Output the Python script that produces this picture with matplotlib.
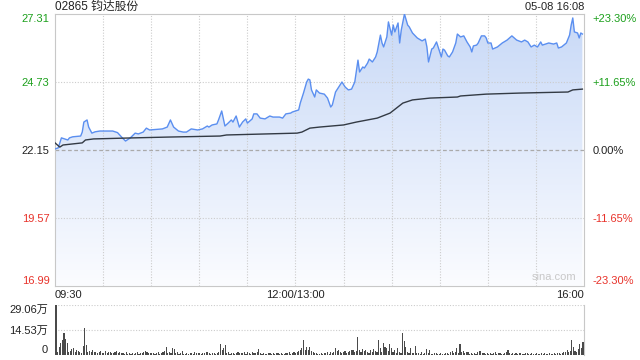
import numpy as np
import matplotlib.pyplot as plt
from matplotlib.colors import LinearSegmentedColormap

plt.rcParams['font.family'] = ['Liberation Sans', 'Noto Sans CJK SC']
plt.rcParams['font.size'] = 8

# dados (minutos de pregao desde 09:30, sem almoco)
minutos = [0, 2, 4, 6, 8, 9, 11, 16, 17, 18,
           20, 21, 23, 25, 28, 36, 39, 42, 44, 47,
           50, 52, 55, 57, 59, 67, 70, 72, 74, 77,
           80, 82, 85, 89, 92, 95, 96, 98, 101, 102,
           104, 106, 108, 110, 111, 113, 115, 117, 119, 120,
           123, 124, 126, 128, 131, 134, 136, 140, 142, 144,
           147, 148, 152, 153, 155, 157, 158, 159, 160, 162,
           163, 165, 168, 170, 172, 173, 175, 177, 179, 181,
           183, 185, 187, 189, 190, 192, 193, 195, 196, 198,
           200, 201, 203, 204, 205, 207, 208, 210, 211, 212,
           214, 215, 216, 218, 220, 221, 223, 226, 229, 231,
           232, 233, 235, 236, 238, 239, 241, 242, 243, 245,
           246, 248, 250, 251, 253, 255, 257, 259, 260, 261,
           263, 264, 266, 268, 269, 270, 272, 273, 276, 279,
           282, 285, 288, 291, 293, 295, 297, 299, 301, 303,
           304, 308, 311, 313, 314, 316, 319, 321, 322, 323,
           324, 326, 327, 328, 329]
precos = [22.19, 22.23, 22.61, 22.57, 22.53, 22.61, 22.65, 22.68, 22.83, 23.21,
          23.29, 23.02, 22.79, 22.84, 22.87, 22.87, 22.81, 22.61, 22.49, 22.61,
          22.79, 22.76, 22.83, 22.98, 22.91, 22.95, 23.02, 23.29, 23.02, 22.87,
          22.83, 22.83, 22.95, 22.91, 22.95, 23.06, 23.02, 23.10, 23.14, 23.29,
          23.63, 23.06, 23.17, 23.29, 23.21, 23.44, 23.02, 23.21, 23.33, 23.17,
          23.33, 23.52, 23.52, 23.36, 23.33, 23.44, 23.40, 23.40, 23.36, 23.52,
          23.55, 23.59, 23.67, 23.93, 24.31, 24.73, 24.84, 24.81, 24.43, 24.16,
          24.43, 24.31, 24.27, 24.12, 23.78, 23.86, 24.35, 24.54, 24.73, 24.54,
          24.43, 24.46, 24.73, 25.56, 25.11, 25.30, 25.26, 25.45, 25.60, 25.49,
          25.68, 25.87, 26.51, 26.21, 26.06, 26.44, 27.01, 26.51, 26.89, 26.63,
          26.97, 26.21, 26.70, 27.31, 26.89, 26.82, 26.59, 26.40, 26.29, 26.36,
          26.06, 25.49, 25.98, 26.02, 26.25, 26.06, 25.68, 25.98, 25.94, 25.72,
          25.68, 25.87, 26.21, 26.55, 26.44, 26.48, 26.25, 26.06, 25.87, 26.10,
          26.13, 26.21, 26.48, 26.48, 26.40, 26.21, 26.21, 25.98, 26.06, 26.21,
          26.32, 26.48, 26.32, 26.25, 26.32, 26.25, 26.06, 26.13, 26.06, 26.25,
          26.13, 26.21, 26.17, 26.21, 26.02, 26.06, 26.21, 26.51, 26.89, 27.16,
          26.63, 26.59, 26.40, 26.59, 26.55]

media_min = [0, 3, 5, 17, 19, 24, 49, 70, 103, 107,
             132, 151, 154, 159, 165, 180, 188, 201, 209, 217,
             223, 234, 251, 253, 269, 290, 320, 323, 329]
media = [22.42, 22.26, 22.34, 22.42, 22.53, 22.57, 22.61, 22.64, 22.68, 22.72,
         22.76, 22.79, 22.83, 22.98, 23.02, 23.10, 23.21, 23.36, 23.55, 23.93,
         24.05, 24.12, 24.16, 24.20, 24.27, 24.31, 24.35, 24.43, 24.46]

# volume por minuto, em 万
volume = [29.06, 1.5, 4.4, 6.7, 8.7, 12.8, 9.5, 7.0, 2.0, 2.5, 3.3, 4.0, 2.0, 3.0, 2.5, 1.8, 1.0, 5.4, 15.9, 6.0, 1.5, 2.5, 2.0, 3.0, 1.5, 2.0, 1.0, 1.5, 2.3, 1.0,
          1.2, 2.3, 1.0, 1.5, 2.0, 1.2, 1.0, 1.5, 2.3, 1.0, 1.8, 1.2, 1.0, 0.8, 1.5, 0.6, 1.0, 0.8, 1.2, 0.6, 1.0, 1.5, 0.8, 1.2, 1.0, 1.8, 2.3, 1.5, 1.0, 1.2,
          1.0, 1.2, 0.8, 1.0, 1.5, 0.6, 1.0, 1.9, 2.5, 4.8, 1.2, 2.0, 1.0, 4.2, 3.3, 1.0, 1.5, 0.8, 1.0, 2.3, 0.8, 0.6, 1.0, 0.8, 1.2, 1.0, 0.8, 1.5, 1.0, 1.2,
          1.0, 0.8, 1.2, 1.0, 1.5, 1.7, 1.0, 0.8, 1.2, 1.0, 0.8, 1.2, 1.5, 6.4, 2.9, 3.8, 5.8, 1.0, 1.5, 0.8, 1.0, 1.2, 0.8, 1.0, 1.5, 1.0, 1.2, 1.0, 1.7, 0.8,
          1.5, 1.0, 0.8, 1.9, 1.2, 1.0, 1.5, 3.3, 1.2, 0.8, 1.0, 0.6, 0.8, 1.0, 1.2, 0.8, 1.0, 0.6, 1.0, 1.2, 0.8, 1.0, 0.6, 0.8, 1.2, 1.0, 1.9, 0.8, 1.2, 1.5,
          1.2, 1.9, 2.3, 2.9, 3.9, 8.7, 2.9, 4.8, 3.0, 4.8, 2.3, 1.9, 1.2, 1.0, 0.8, 0.6, 1.0, 0.8, 1.2, 1.0, 1.5, 0.8, 1.9, 1.2, 1.5, 3.9, 2.3, 2.9, 1.5, 1.2,
          1.5, 2.3, 1.2, 1.9, 2.3, 2.9, 2.9, 1.9, 2.5, 10.7, 2.9, 1.5, 3.5, 2.3, 2.9, 1.5, 1.2, 2.9, 1.9, 3.5, 2.3, 1.9, 8.7, 3.9, 1.5, 6.8, 4.8, 4.3, 2.3, 6.2,
          3.9, 1.5, 2.9, 1.2, 3.9, 1.5, 1.2, 13.0, 8.1, 4.8, 1.5, 1.0, 3.9, 1.2, 1.0, 5.4, 1.2, 1.0, 0.8, 1.5, 0.8, 1.0, 3.5, 1.2, 2.9, 0.8, 0.6, 1.0, 1.2, 0.8,
          0.8, 1.0, 0.6, 0.8, 1.2, 1.0, 0.8, 1.5, 2.3, 1.2, 1.9, 3.9, 1.2, 6.4, 1.5, 2.3, 1.0, 1.5, 1.9, 0.8, 1.2, 0.6, 1.0, 0.8, 1.5, 2.3, 2.5, 1.0, 1.2, 0.8,
          1.0, 0.8, 1.2, 0.6, 1.0, 1.5, 0.8, 1.0, 1.2, 0.6, 0.8, 1.0, 1.5, 2.9, 1.0, 0.8, 1.2, 0.6, 1.0, 0.8, 1.2, 1.0, 0.6, 0.8, 1.0, 1.2, 0.8, 0.6, 1.0, 0.8,
          0.8, 1.0, 0.6, 0.8, 1.0, 0.8, 1.2, 0.6, 0.8, 1.0, 0.8, 0.6, 1.0, 0.8, 1.2, 1.0, 0.8, 1.2, 1.5, 1.9, 2.9, 1.5, 2.3, 8.7, 4.8, 2.3, 1.5, 3.5, 6.4, 3.9, 7.7]

ticks_preco = [16.99, 19.57, 22.15, 24.73, 27.31]
ticks_pct = ['-23.30%', '-11.65%', '0.00%', '+11.65%', '+23.30%']
cores = ['#e8332b', '#e8332b', '#222222', '#1ca01c', '#1ca01c']
ticks_tempo = [0, 150, 330]
labels_tempo = ['09:30', '12:00/13:00', '16:00']
ticks_vol = [0, 14.53, 29.06]
labels_vol = ['0', '14.53万', '29.06万']

fig = plt.figure(figsize=(6.4, 3.6), dpi=100)
ax = fig.add_axes([55/640, 1-286/360, 529/640, 272/360])
axv = fig.add_axes([55/640, 1-355/360, 529/640, 50/360])

# preenchimento com degrade
cmap = LinearSegmentedColormap.from_list('azul', ['#fbfcff', '#c8d9f7'])
grad = np.linspace(0, 1, 256).reshape(-1, 1)
fill = ax.fill_between(minutos, precos, 16.99, color='none', lw=0)
img = ax.imshow(grad, extent=[0, 330, 16.99, 27.31], origin='lower', aspect='auto', cmap=cmap, zorder=1)
img.set_clip_path(fill.get_paths()[0], transform=ax.transData)

# grade
for t in range(30, 330, 30):
    ax.axvline(t, color='#cccccc', lw=0.8, ls=(0, (1, 1.5)), zorder=2)
ax.axhline(24.73, color='#cccccc', lw=0.8, ls=(0, (1, 1.5)), zorder=2)
ax.axhline(19.57, color='#cccccc', lw=0.8, ls=(0, (1, 1.5)), zorder=2)
ax.axhline(22.15, color='#aaaaaa', lw=0.9, ls=(0, (3, 2)), zorder=2)

ax.plot(minutos, precos, color='#5b8ff0', lw=1, zorder=4)
ax.plot(media_min, media, color='#333a44', lw=1, zorder=4)

ax.set_xlim(0, 330)
ax.set_ylim(16.99, 27.31)
for s in ax.spines.values():
    s.set_color('#c8c8c8')

ax.set_yticks(ticks_preco)
ax.set_yticklabels(['%.2f' % v for v in ticks_preco])
ax.tick_params(axis='y', length=0, pad=4)
for lab, c in zip(ax.get_yticklabels(), cores):
    lab.set_color(c)
ax.get_yticklabels()[0].set_va('bottom')
ax.get_yticklabels()[-1].set_va('top')

ax2 = ax.twinx()
ax2.set_ylim(16.99, 27.31)
ax2.set_yticks(ticks_preco)
ax2.set_yticklabels(ticks_pct)
ax2.tick_params(axis='y', length=0, pad=6)
for lab, c in zip(ax2.get_yticklabels(), cores):
    lab.set_color(c)
ax2.get_yticklabels()[0].set_va('bottom')
ax2.get_yticklabels()[-1].set_va('top')
for s in ax2.spines.values():
    s.set_visible(False)

ax.set_xticks(ticks_tempo)
ax.set_xticklabels(labels_tempo, color='#222222')
ax.tick_params(axis='x', length=0, pad=3)
ax.get_xticklabels()[0].set_ha('left')
ax.get_xticklabels()[-1].set_ha('right')

ax.text(0.985, 0.015, 'sina.com', transform=ax.transAxes, ha='right', va='bottom', color='#c8c8c8', fontsize=8, zorder=5)

# volume
axv.bar(range(len(volume)), volume, width=0.7, color='#4a4a4a', lw=0, antialiased=False, zorder=3)
axv.set_xlim(-0.6, 330.6)
axv.set_ylim(0, 29.06)
axv.axhline(29.06, color='#cccccc', lw=0.8, ls=(0, (1, 1.5)), zorder=1)
axv.axhline(14.53, color='#cccccc', lw=0.8, ls=(0, (1, 1.5)), zorder=1)
for k in ['left', 'top', 'bottom']:
    axv.spines[k].set_visible(False)
axv.spines['right'].set_color('#c8c8c8')
axv.set_xticks([])
axv.set_yticks(ticks_vol)
axv.set_yticklabels(labels_vol, color='#222222')
axv.tick_params(axis='y', length=0, pad=5)
axv.get_yticklabels()[0].set_va('bottom')
axv.get_yticklabels()[-1].set_va('top')

fig.text(55/640, 1-7/360, '02865 钧达股份', ha='left', va='center', fontsize=8.5, color='#222222')
fig.text(584/640, 1-7/360, '05-08 16:08', ha='right', va='center', fontsize=8, color='#222222')

fig.savefig('out.png', dpi=100)
